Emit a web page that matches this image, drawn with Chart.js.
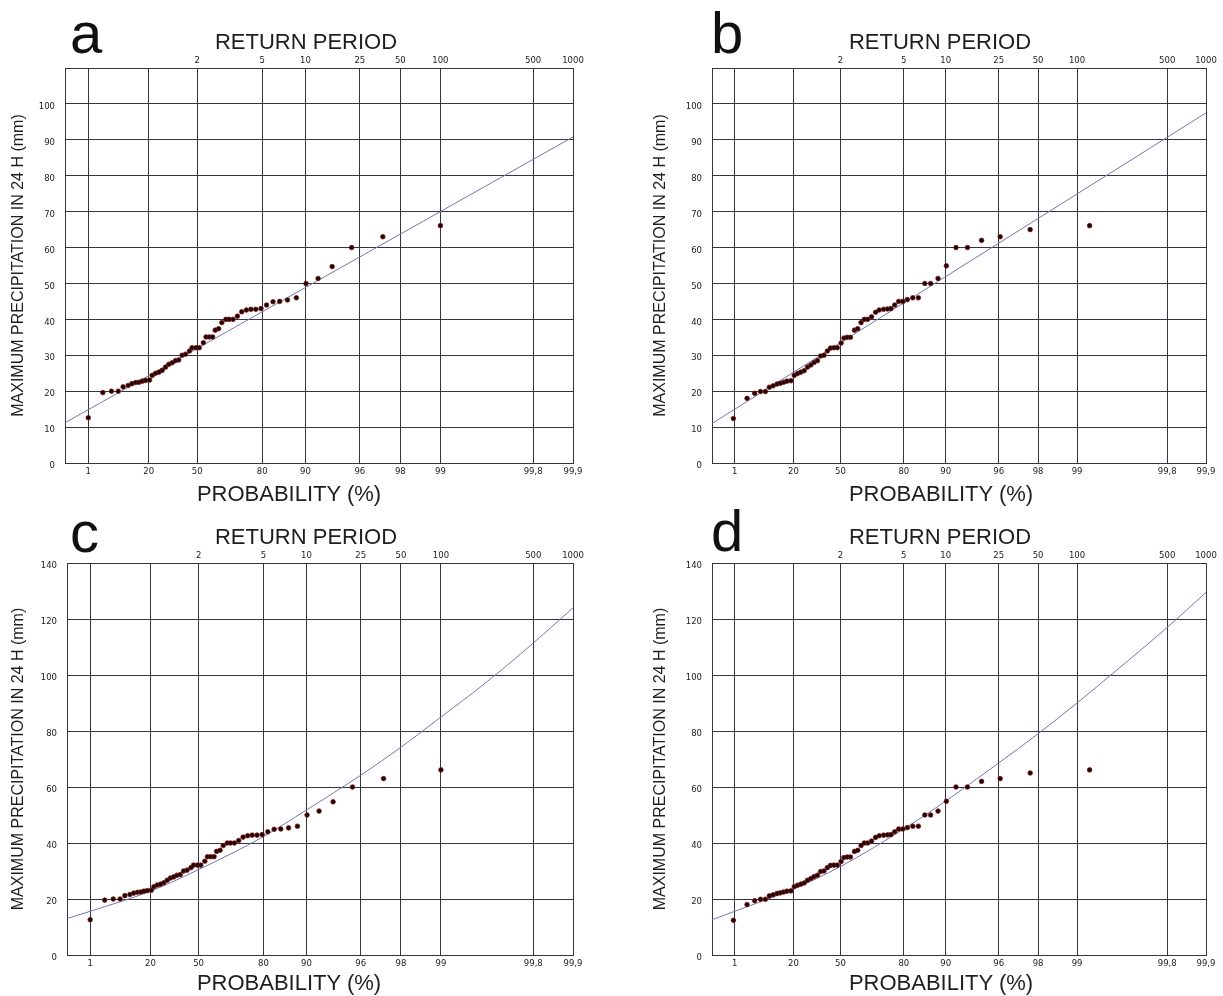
<!DOCTYPE html>
<html>
<head>
<meta charset="utf-8">
<script src="https://cdn.jsdelivr.net/npm/chart.js@4.4.1/dist/chart.umd.min.js"></script>
<style>
  body { margin: 0; background: #fff; }
  #page { position: relative; width: 1223px; height: 996px; overflow: hidden; background: #fff;
          font-family: "Liberation Sans", Arial, sans-serif; color: #1a1a1a; }
  canvas { position: absolute; }
  .letter { position: absolute; font-size: 58px; line-height: 1; color: #111; }
  .ttl { position: absolute; font-size: 22px; line-height: 1; white-space: nowrap; transform: translateX(-50%); color: #1e1e1e; }
</style>
</head>
<body>
<div id="page">
  <canvas id="chartA"></canvas>
  <canvas id="chartB"></canvas>
  <canvas id="chartC"></canvas>
  <canvas id="chartD"></canvas>
</div>
<script>
// probability paper ticks
const probTicks = [0.1, 1, 20, 50, 80, 90, 96, 98, 99, 99.8, 99.9];
const probLabels = ["", "1", "20", "50", "80", "90", "96", "98", "99", "99,8", "99,9"];
const returnPeriods = [2, 5, 10, 25, 50, 100, 500, 1000];

// series 1 (panels a, c): plotting position (%) and max precipitation (mm)
const probA = [1.0, 2.8, 4.6, 6.5, 8.1, 10.0, 11.6, 13.3, 14.9, 16.5, 18.3, 20.5, 22.0, 24.0, 26.0, 28.0, 30.1, 32.2,
  34.3, 36.4, 38.5, 40.6, 42.8, 45.3, 46.9, 49.3, 51.3, 53.7, 55.2, 57.1, 58.9, 60.3, 62.1, 63.7, 65.7, 67.2, 69.0,
  70.9, 72.7, 74.5, 76.2, 77.9, 79.6, 81.3, 83.1, 84.8, 86.6, 88.4, 90.1, 91.9, 93.6, 95.4, 97.3, 99.0];
const valsA = [12.6, 19.6, 20.0, 20.0, 21.2, 21.6, 22.1, 22.4, 22.5, 22.8, 23.0, 23.1, 24.4, 25.0, 25.3, 25.8, 26.7, 27.5,
  27.9, 28.5, 28.7, 30.0, 30.3, 31.2, 32.1, 32.1, 32.1, 33.5, 35.1, 35.1, 35.1, 37.0, 37.4, 39.1, 40.0, 40.0, 40.0,
  40.9, 42.1, 42.6, 42.8, 42.8, 43.0, 44.0, 44.9, 45.0, 45.4, 46.0, 50.0, 51.4, 54.7, 60.0, 63.0, 66.1];

// series 2 (panels b, d)
const probB = [0.9, 2.5, 4.0, 5.5, 7.0, 8.4, 9.9, 11.6, 13.1, 14.7, 16.4, 18.6, 20.5, 22.4, 24.4, 26.5, 28.6, 30.8,
  32.9, 35.1, 37.2, 39.4, 41.6, 43.7, 45.9, 48.0, 50.4, 52.1, 54.1, 56.0, 58.3, 60.1, 61.9, 63.6, 65.3, 67.2, 69.1,
  70.7, 72.6, 74.2, 75.5, 76.9, 78.3, 79.7, 81.1, 82.7, 84.2, 85.8, 87.1, 88.6, 90.1, 91.6, 93.1, 94.6, 96.1, 97.7, 99.2];
const valsB = [12.4, 18.0, 19.4, 19.9, 19.9, 21.1, 21.5, 22.0, 22.2, 22.5, 22.8, 22.9, 24.4, 24.9, 25.3, 25.7, 26.7, 27.3,
  28.0, 28.5, 29.8, 30.0, 31.2, 32.0, 32.1, 32.1, 33.4, 34.8, 35.0, 35.0, 37.0, 37.4, 39.1, 40.0, 40.0, 40.7, 42.0,
  42.6, 42.8, 42.9, 43.0, 44.0, 45.0, 45.0, 45.5, 46.0, 46.0, 50.0, 50.0, 51.4, 54.9, 60.0, 60.0, 62.0, 63.0, 65.0, 66.1];

// fitted distributions, [probability %, mm]
const fitA = [[0.1, 11.2], [99.9, 90.8]];
const fitB = [[0.1, 11.0], [99.9, 97.5]];
const fitC = [[0.1, 13.0], [1, 15.6], [20, 22.8], [50, 30.5], [80, 42.3], [90, 51.8], [96, 64.2], [98, 74.2],
  [99, 85.0], [99.5, 95.8], [99.8, 111.4], [99.9, 124.0]];
const fitD = [[0.1, 12.6], [1, 15.6], [20, 23.6], [50, 31.6], [80, 45.0], [90, 55.0], [96, 68.6], [98, 79.0],
  [99, 90.0], [99.5, 101.5], [99.8, 117.0], [99.9, 129.5]];

const GRID = "#34343f";
const FIT = "#7478ad";
const tickFont = { family: "'DejaVu Sans', Verdana, sans-serif", size: 8.5 };

// gumbel reduced variate, used as the x axis unit
function gumbel(p) {
  return -Math.log(-Math.log(p / 100));
}

function addText(text, cls, x, y) {
  const el = document.createElement("div");
  el.className = cls;
  el.textContent = text;
  el.style.left = x + "px";
  el.style.top = y + "px";
  document.getElementById("page").appendChild(el);
}

function makePanel(id, p) {
  const canvas = document.getElementById(id);
  canvas.width = p.w;
  canvas.height = p.h;
  canvas.style.left = p.x + "px";
  canvas.style.top = p.y + "px";

  return new Chart(canvas, {
    type: "scatter",
    data: {
      datasets: [
        {
          data: p.probs.map((v, i) => ({ x: gumbel(v), y: p.vals[i] })),
          pointRadius: 2.3,
          pointBackgroundColor: "#1c0303",
          pointBorderColor: "#7a1414",
          pointBorderWidth: 0.8,
          showLine: false,
        },
        {
          data: p.fit.map((f) => ({ x: gumbel(f[0]), y: f[1] })),
          showLine: true,
          borderColor: FIT,
          borderWidth: 1,
          pointRadius: 0,
          cubicInterpolationMode: "monotone",
        },
      ],
    },
    options: {
      responsive: false,
      animation: false,
      devicePixelRatio: 1,
      layout: { padding: { left: 0, top: 0, right: p.w - (p.R - p.x), bottom: 0 } },
      plugins: { legend: { display: false }, tooltip: { enabled: false } },
      scales: {
        x: {
          type: "linear",
          position: "bottom",
          min: gumbel(0.1),
          max: gumbel(99.9),
          afterBuildTicks: (s) => {
            s.ticks = probTicks.map((v) => ({ value: gumbel(v) }));
          },
          afterFit: (s) => {
            s.height = p.h - (p.B - p.y);
          },
          ticks: {
            autoSkip: false,
            maxRotation: 0,
            padding: 4,
            color: "#222",
            font: tickFont,
            callback: (v, i) => probLabels[i],
          },
          grid: { color: GRID, lineWidth: 1, drawTicks: false },
          border: { color: GRID },
        },
        x2: {
          type: "linear",
          position: "top",
          min: gumbel(0.1),
          max: gumbel(99.9),
          afterBuildTicks: (s) => {
            s.ticks = returnPeriods.map((t) => ({ value: gumbel(100 - 100 / t) }));
          },
          afterFit: (s) => {
            s.height = p.T - p.y;
          },
          ticks: {
            autoSkip: false,
            maxRotation: 0,
            padding: 2,
            color: "#222",
            font: tickFont,
            callback: (v, i) => String(returnPeriods[i]),
          },
          grid: { display: false, drawTicks: false },
          border: { display: false },
        },
        y: {
          min: 0,
          max: p.yMax,
          afterFit: (s) => {
            s.width = p.L - p.x;
          },
          ticks: {
            stepSize: p.yStep,
            padding: 10,
            labelOffset: 3,
            color: "#222",
            font: tickFont,
            callback: (v) => (v > p.yLabelMax ? "" : v),
          },
          grid: { color: GRID, lineWidth: 1, drawTicks: false },
          border: { color: GRID },
          title: {
            display: true,
            text: "MAXIMUM PRECIPITATION IN 24 H (mm)",
            color: "#1e1e1e",
            font: { family: "'Liberation Sans', Arial, sans-serif", size: 16 },
            padding: { top: p.titlePad, bottom: 0 },
          },
        },
      },
    },
  });
}

const panels = [
  { id: "chartA", letter: "a", x: 0, y: 0, w: 610, h: 500, L: 65, R: 573, T: 68, B: 463,
    yMax: 110, yStep: 10, yLabelMax: 100, probs: probA, vals: valsA, fit: fitA, titlePad: 9,
    lx: 70, ly: 4, rp: [306, 31], pr: [289, 483] },
  { id: "chartB", letter: "b", x: 630, y: 0, w: 593, h: 500, L: 712, R: 1206, T: 68, B: 463,
    yMax: 110, yStep: 10, yLabelMax: 100, probs: probB, vals: valsB, fit: fitB, titlePad: 21,
    lx: 711, ly: 4, rp: [940, 31], pr: [941, 483] },
  { id: "chartC", letter: "c", x: 0, y: 500, w: 610, h: 496, L: 67, R: 573, T: 563, B: 955,
    yMax: 140, yStep: 20, yLabelMax: 140, probs: probA, vals: valsA, fit: fitC, titlePad: 9,
    lx: 70, ly: 503, rp: [306, 526], pr: [289, 972] },
  { id: "chartD", letter: "d", x: 630, y: 500, w: 593, h: 496, L: 712, R: 1206, T: 563, B: 955,
    yMax: 140, yStep: 20, yLabelMax: 140, probs: probB, vals: valsB, fit: fitD, titlePad: 21,
    lx: 711, ly: 502, rp: [940, 526], pr: [941, 972] },
];

panels.forEach((p) => {
  makePanel(p.id, p);
  addText(p.letter, "letter", p.lx, p.ly);
  addText("RETURN PERIOD", "ttl", p.rp[0], p.rp[1]);
  addText("PROBABILITY (%)", "ttl", p.pr[0], p.pr[1]);
});
</script>
</body>
</html>
